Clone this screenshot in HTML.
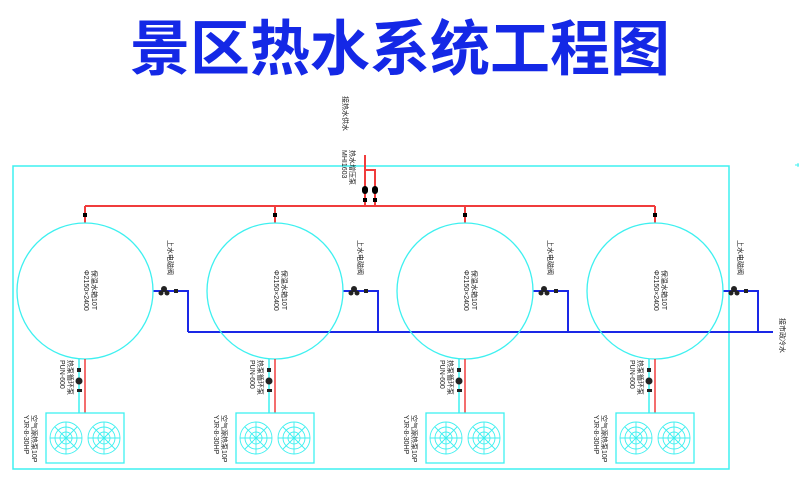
<!DOCTYPE html>
<html><head><meta charset="utf-8"><style>
body{margin:0;background:#fff;}
svg{display:block;}
text{font-family:"Liberation Sans","Noto Sans CJK SC",sans-serif;}
</style></head><body>
<svg width="800" height="490" viewBox="0 0 800 490" xmlns="http://www.w3.org/2000/svg">
<text x="400" y="70" text-anchor="middle" font-size="60" font-weight="bold" fill="#1428e6" style="font-family:'Noto Sans CJK SC',sans-serif">景区热水系统工程图</text>

<!-- frame -->
<rect x="13" y="166" width="716" height="303" fill="none" stroke="#3ef0f0" stroke-width="1.5"/>
<path d="M795 165 h4 M798 163 v4" stroke="#3ef0f0" stroke-width="1"/>

<!-- red supply -->
<path d="M365 155 V206 M365 170 H375 V206 M85 206 H655 M85 206 V223 M275 206 V223 M465 206 V223 M655 206 V223" stroke="#f03c3c" stroke-width="2" fill="none"/>
<g fill="#000">
<rect x="362" y="186" width="6" height="8" rx="3"/><rect x="372" y="186" width="6" height="8" rx="3"/>
<rect x="363" y="198" width="4" height="4"/><rect x="373" y="198" width="4" height="4"/>
<rect x="83" y="213" width="4" height="4"/><rect x="273" y="213" width="4" height="4"/><rect x="463" y="213" width="4" height="4"/><rect x="653" y="213" width="4" height="4"/>
</g>
<text transform="translate(343,96) rotate(90)" font-size="7" fill="#222">接热水供水</text>
<text transform="translate(350,150) rotate(90)" font-size="7" fill="#222">热水增压泵</text>
<text transform="translate(342,150) rotate(90)" font-size="7" fill="#222">MHI1603</text>

<!-- blue cold -->
<path d="M188 332 H773 M153 291 H188 V332 M343 291 H378 V332 M533 291 H568 V332 M723 291 H758 V332" stroke="#1a28e6" stroke-width="2" fill="none"/>

<g id="tanks" fill="none" stroke="#3ef0f0" stroke-width="1.3">
<circle cx="85" cy="291" r="68"/><circle cx="275" cy="291" r="68"/><circle cx="465" cy="291" r="68"/><circle cx="655" cy="291" r="68"/>
</g>

<g font-size="7" fill="#222">
<text transform="translate(92,270) rotate(90)">保温水箱10T</text><text transform="translate(84,270) rotate(90)">Φ2150×2400</text>
<text transform="translate(282,270) rotate(90)">保温水箱10T</text><text transform="translate(274,270) rotate(90)">Φ2150×2400</text>
<text transform="translate(472,270) rotate(90)">保温水箱10T</text><text transform="translate(464,270) rotate(90)">Φ2150×2400</text>
<text transform="translate(662,270) rotate(90)">保温水箱10T</text><text transform="translate(654,270) rotate(90)">Φ2150×2400</text>
<text transform="translate(168,240) rotate(90)">上水电磁阀</text>
<text transform="translate(358,240) rotate(90)">上水电磁阀</text>
<text transform="translate(548,240) rotate(90)">上水电磁阀</text>
<text transform="translate(738,240) rotate(90)">上水电磁阀</text>
<text transform="translate(780,318) rotate(90)">接市政冷水</text>
</g>
<g fill="#222">
<circle cx="164" cy="289" r="3"/><circle cx="161" cy="293" r="2.5"/><circle cx="167" cy="293" r="2.5"/><rect x="174" y="289" width="4" height="4"/>
<circle cx="354" cy="289" r="3"/><circle cx="351" cy="293" r="2.5"/><circle cx="357" cy="293" r="2.5"/><rect x="364" y="289" width="4" height="4"/>
<circle cx="544" cy="289" r="3"/><circle cx="541" cy="293" r="2.5"/><circle cx="547" cy="293" r="2.5"/><rect x="554" y="289" width="4" height="4"/>
<circle cx="734" cy="289" r="3"/><circle cx="731" cy="293" r="2.5"/><circle cx="737" cy="293" r="2.5"/><rect x="744" y="289" width="4" height="4"/>
</g>

<!-- heat pumps -->
<g id="hp">
<path d="M79 359 V413" stroke="#3ef0f0" stroke-width="1.5"/>
<path d="M85 359 V413" stroke="#f03c3c" stroke-width="1.5"/>
<rect x="77" y="368" width="4" height="4" fill="#222"/><circle cx="79" cy="381" r="3.5" fill="#222"/><rect x="77" y="389" width="5" height="3" fill="#222"/>
<text transform="translate(68,360) rotate(90)" font-size="7" fill="#222">热泵循环泵</text>
<text transform="translate(60,360) rotate(90)" font-size="7" fill="#222">PUN-600</text>
<rect x="46" y="413" width="78" height="50" fill="none" stroke="#3ef0f0" stroke-width="1.3"/>
<g fill="none" stroke="#3ef0f0" stroke-width="0.9">
<circle cx="66" cy="438" r="16"/><circle cx="66" cy="438" r="11"/><circle cx="66" cy="438" r="6"/>
<path d="M50 438 H82 M66 422 V454 M55 427 L77 449 M77 427 L55 449"/>
<circle cx="104" cy="438" r="16"/><circle cx="104" cy="438" r="11"/><circle cx="104" cy="438" r="6"/>
<path d="M88 438 H120 M104 422 V454 M93 427 L115 449 M115 427 L93 449"/>
</g>
<text transform="translate(32,415) rotate(90)" font-size="7" fill="#222">空气源热泵10P</text>
<text transform="translate(24,415) rotate(90)" font-size="7" fill="#222">YJR-8-30HP</text>
</g>
<use href="#hp" transform="translate(190,0)"/>
<use href="#hp" transform="translate(380,0)"/>
<use href="#hp" transform="translate(570,0)"/>
</svg>
</body></html>
